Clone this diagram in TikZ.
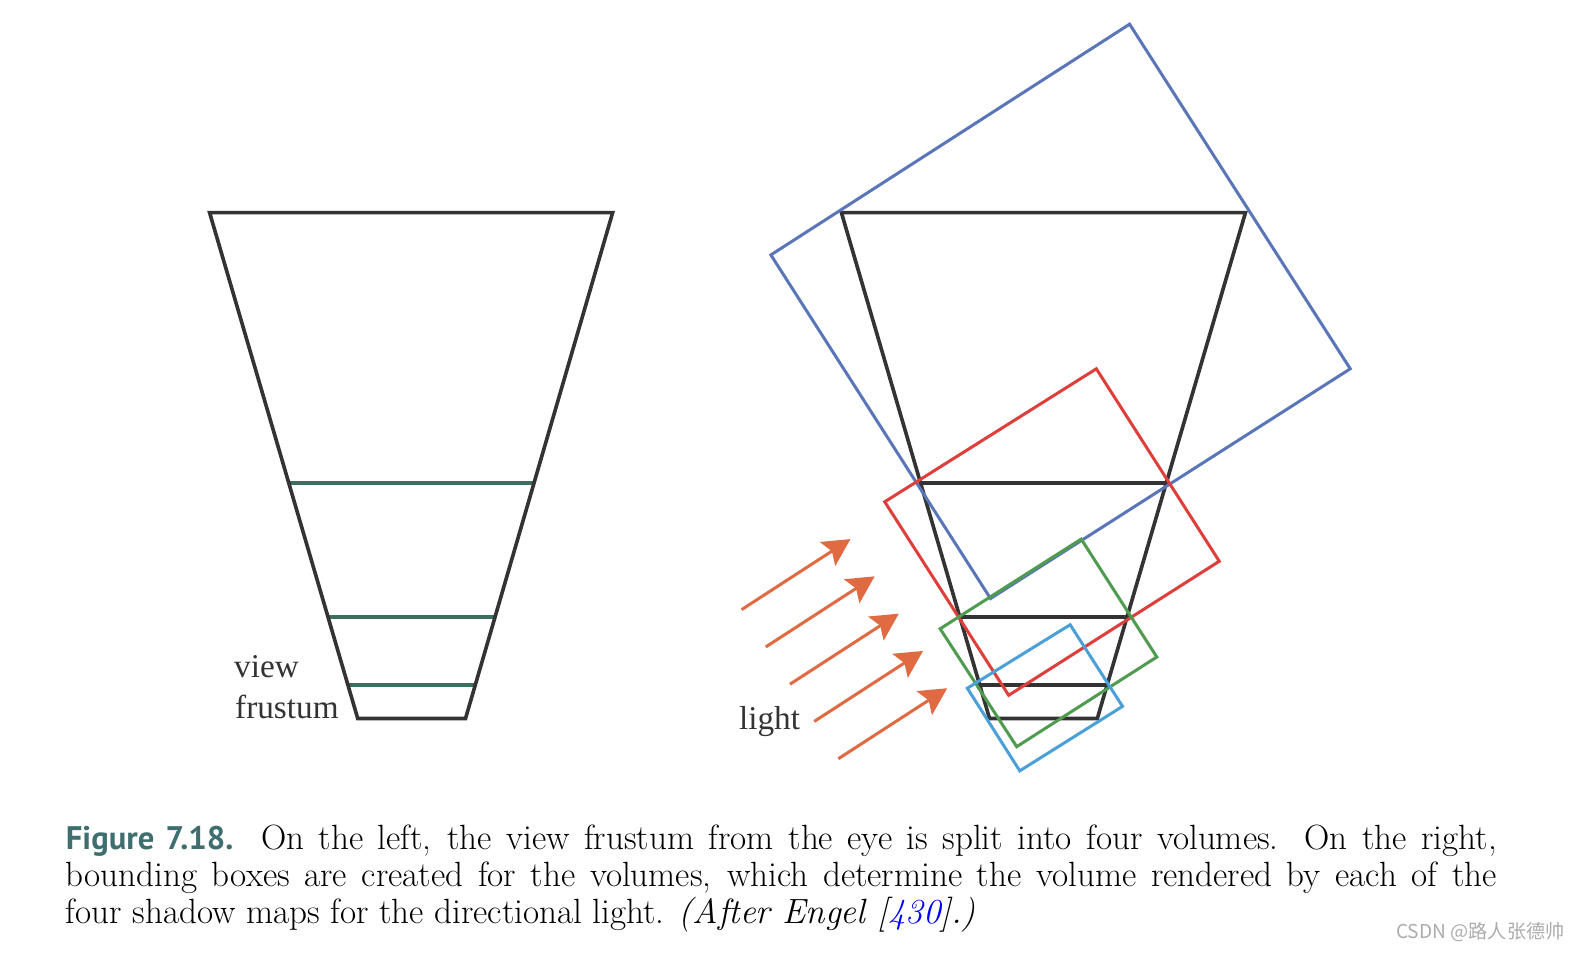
\documentclass[tikz,border=0pt]{standalone}
\usepackage{fontspec}
\usepackage{xcolor}
\usepackage{tikz}
\usetikzlibrary{arrows.meta,calc}
\newfontfamily\labelfont{Liberation Serif}
\newfontfamily\figfont{PT Sans}
\newfontfamily\cjkfont{Noto Sans CJK SC}
\definecolor{FrustGray}{HTML}{333333}
\definecolor{SliceTeal}{HTML}{3C6E5E}
\definecolor{BoxBlue}{HTML}{5A76B8}
\definecolor{BoxRed}{HTML}{DD3F3B}
\definecolor{BoxGreen}{HTML}{4F9B50}
\definecolor{BoxCyan}{HTML}{4BA0D8}
\definecolor{RayOrange}{HTML}{E06A42}
\definecolor{CapTeal}{HTML}{3F6E6E}

\begin{document}
\begin{tikzpicture}[x=0.5pt,y=-0.5pt,
  frust/.style={draw=FrustGray,line width=1.8pt,line join=miter},
  slice/.style={draw=SliceTeal,line width=1.8pt},
  bbox/.style={line width=1.5pt,line join=miter},
  ray/.style={-{Stealth[length=13.5pt,width=14pt,inset=2.5pt]},draw=RayOrange,line width=1.5pt},
  lbl/.style={font=\labelfont\fontsize{16.5}{20}\selectfont,text=FrustGray,inner sep=0pt}
]
\useasboundingbox (0,0) rectangle (1568,945);

\coordinate (ltl) at (208,211);
\coordinate (ltr) at (608,211);
\coordinate (lbr) at (462,713);
\coordinate (lbl) at (355,713);
\foreach \t in {0.534,0.799,0.934}
  \draw[slice] ($(ltl)!\t!(lbl)$) -- ($(ltr)!\t!(lbr)$);
\draw[frust] (ltl) -- (ltr) -- (lbr) -- (lbl) -- cycle;

\coordinate (rtl) at (835,211);
\coordinate (rtr) at (1236,211);
\coordinate (rbr) at (1089,713);
\coordinate (rbl) at (982,713);
\foreach \t in {0.534,0.799,0.934}
  \draw[frust] ($(rtl)!\t!(rbl)$) -- ($(rtr)!\t!(rbr)$);
\draw[frust] (rtl) -- (rtr) -- (rbr) -- (rbl) -- cycle;

\draw[bbox,BoxBlue] (765,253) -- (1121,24) -- (1340,366) -- (983,594) -- cycle;
\draw[bbox,BoxRed] (878,498) -- (1088,366) -- (1210,557) -- (1001,690) -- cycle;
\draw[bbox,BoxGreen] (933,624) -- (1073,535) -- (1148,652) -- (1009,741) -- cycle;
\draw[bbox,BoxCyan] (960,683) -- (1062,620) -- (1114,701) -- (1012,765) -- cycle;

\foreach \k in {0,...,4}{
  \coordinate (ray\k a) at ({736+24*\k},{605+37*\k});
  \coordinate (ray\k b) at ({844+24*\k},{535+37*\k});
  \draw[ray] (ray\k a) -- (ray\k b);
}

\node[lbl,anchor=base west] (viewtxt) at (232,672) {view};
\node[lbl,anchor=base west] (frusttxt) at (233,713) {frustum};
\node[lbl,anchor=base west] (lighttxt) at (733,724) {light};

\node[anchor=base west,inner sep=0pt,text width=710pt,align=justify,
  font=\fontsize{17.4}{18.25}\selectfont] (caption) at (65,843)
  {{\figfont\bfseries\fontsize{16.2}{18}\selectfont\color{CapTeal}Figure 7.18.}\hspace{0.05em} On the left, the view frustum from the eye is split into four volumes. On the right,\linebreak
  bounding boxes are created for the volumes, which determine the volume rendered by each of the\linebreak
  four shadow maps for the directional light. {\itshape (After Engel [\textcolor{blue}{430}].)}};

\node[anchor=east,inner sep=0pt,text=gray!65,font=\cjkfont\fontsize{9.5}{10}\selectfont] (mark) at (1553,925) {CSDN @路人张德帅};
\end{tikzpicture}
\end{document}
